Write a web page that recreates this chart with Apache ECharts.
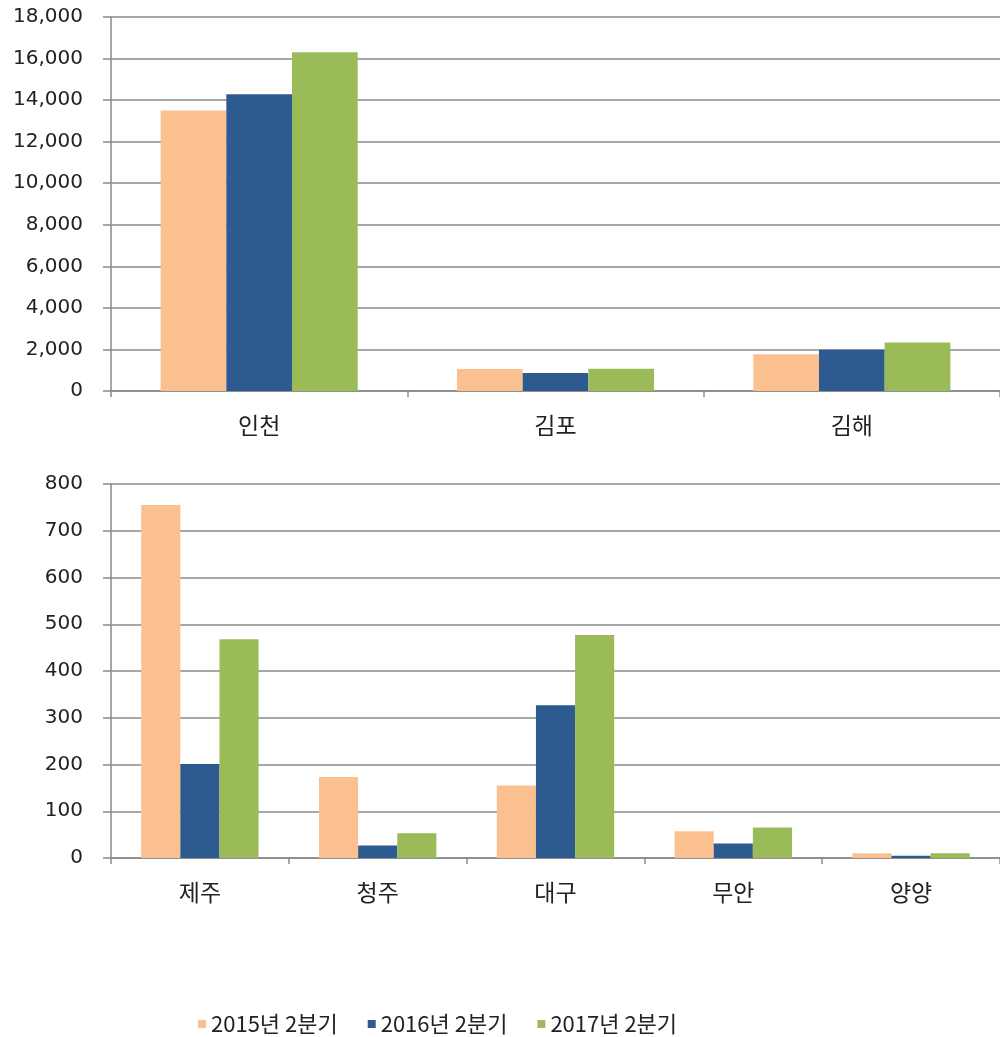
<!DOCTYPE html>
<html>
<head>
<meta charset="utf-8">
<script src="https://cdn.jsdelivr.net/npm/echarts@6/dist/echarts.min.js"></script>
<style>
html,body{margin:0;padding:0;background:#fff;}
#chart{width:1000px;height:1037px;}
</style>
</head>
<body>
<div id="chart"></div>
<script>
const seriesNames = ['2015년 2분기', '2016년 2분기', '2017년 2분기'];
const colors = ['#FAC090', '#2E5B8F', '#9BBB59'];

const topCategories = ['인천', '김포', '김해'];
const top2015 = [13500, 1060, 1770];
const top2016 = [14280, 870, 1990];
const top2017 = [16300, 1075, 2340];

const bottomCategories = ['제주', '청주', '대구', '무안', '양양'];
const bottom2015 = [755, 173, 155, 57, 10];
const bottom2016 = [201, 27, 327, 31, 5];
const bottom2017 = [468, 53, 477, 65, 10];

const topValues = [top2015, top2016, top2017];
const bottomValues = [bottom2015, bottom2016, bottom2017];

const gridColor = '#8A8A8A';
const numFont = '"DejaVu Sans", sans-serif';
const krFont = '"Noto Sans CJK KR", "Noto Sans", sans-serif';

function xAxisCfg(idx, cats) {
  return {
    type: 'category', gridIndex: idx, data: cats,
    axisLine: { lineStyle: { color: gridColor, width: 1.5 } },
    axisTick: { show: true, length: 6, lineStyle: { color: gridColor, width: 1.5 } },
    axisLabel: { color: '#222', fontFamily: krFont, fontSize: 23, margin: 23 }
  };
}
function yAxisCfg(idx, max, interval) {
  return {
    type: 'value', gridIndex: idx, min: 0, max: max, interval: interval,
    axisLine: { show: true, lineStyle: { color: gridColor, width: 1.5 } },
    axisTick: { show: true, length: 8, lineStyle: { color: gridColor, width: 1.5 } },
    splitLine: { show: true, lineStyle: { color: gridColor, width: 1.5 } },
    axisLabel: {
      color: '#222', fontFamily: numFont, fontSize: 20, margin: 28,
      formatter: v => v.toLocaleString('en-US')
    }
  };
}

const series = [];
seriesNames.forEach((name, i) => {
  series.push({
    name: name, type: 'bar', xAxisIndex: 0, yAxisIndex: 0,
    data: topValues[i], itemStyle: { color: colors[i] },
    barGap: '0%', barCategoryGap: '33.5%'
  });
});
seriesNames.forEach((name, i) => {
  series.push({
    name: name, type: 'bar', xAxisIndex: 1, yAxisIndex: 1,
    data: bottomValues[i], itemStyle: { color: colors[i] },
    barGap: '0%', barCategoryGap: '34%'
  });
});

const chart = echarts.init(document.getElementById('chart'));
chart.setOption({
  animation: false,
  backgroundColor: '#fff',
  grid: [
    { left: 111, top: 17, width: 893, height: 374 },
    { left: 111, top: 484, width: 893, height: 374 }
  ],
  xAxis: [xAxisCfg(0, topCategories), xAxisCfg(1, bottomCategories)],
  yAxis: [yAxisCfg(0, 18000, 2000), yAxisCfg(1, 800, 100)],
  legend: {
    data: seriesNames, left: 193, top: 1008,
    itemWidth: 8, itemHeight: 8, itemGap: 30, icon: 'rect',
    textStyle: { color: '#222', fontFamily: krFont, fontSize: 22 }
  },
  series: series
});
</script>
</body>
</html>
